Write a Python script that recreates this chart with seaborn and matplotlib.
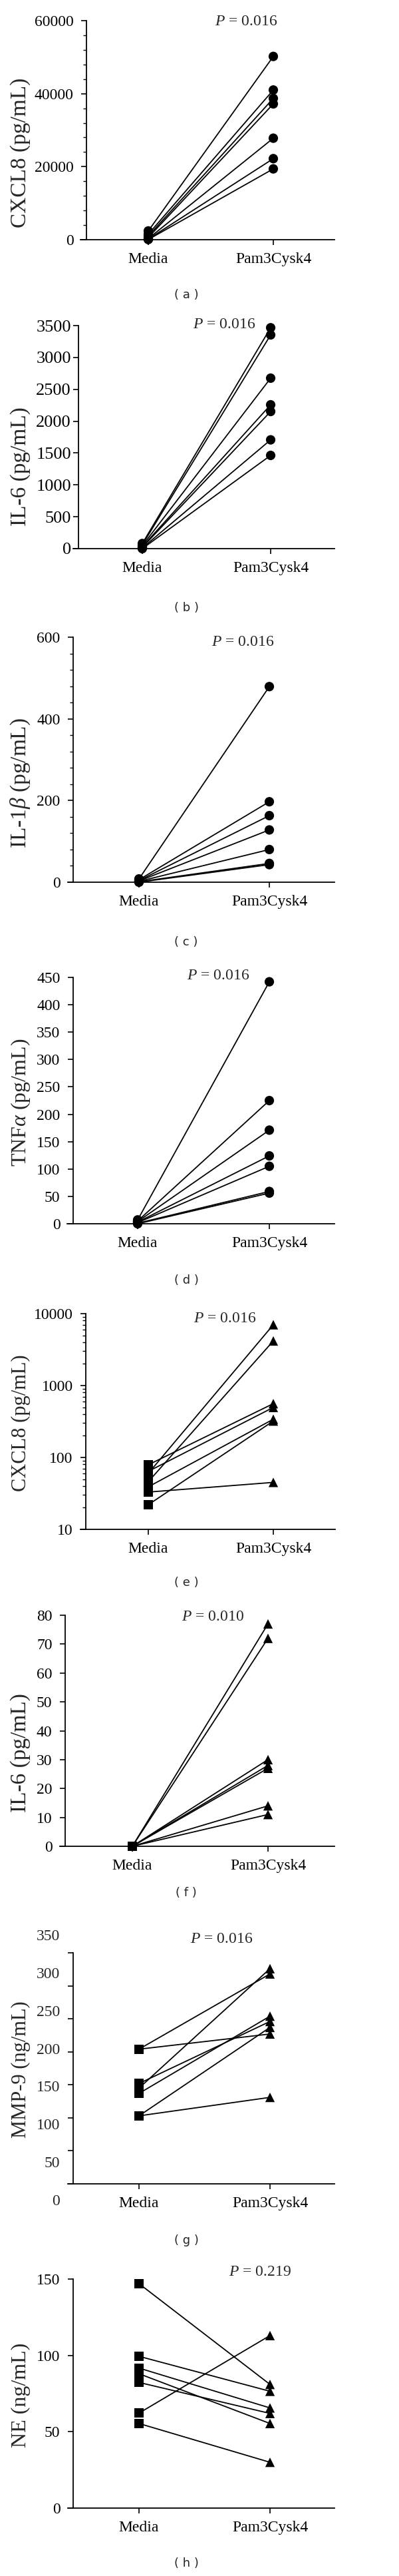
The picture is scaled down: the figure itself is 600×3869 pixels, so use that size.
import matplotlib
matplotlib.use('Agg')
import matplotlib.pyplot as plt
from matplotlib.ticker import MultipleLocator, NullFormatter
import pandas as pd
import seaborn as sns

groups = ['Media', 'Pam3Cysk4']

# (a) CXCL8
cxcl8_media = [2400, 1500, 1000, 600, 300, 150, 50]
cxcl8_pam = [50200, 41000, 38700, 37200, 27800, 22200, 19400]
# (b) IL-6
il6_media = [80, 60, 45, 30, 20, 10, 0]
il6_pam = [3466, 3354, 2675, 2257, 2152, 1707, 1463]
# (c) IL-1beta
il1b_media = [8, 6, 4, 3, 2, 1, 0]
il1b_pam = [479, 197, 163, 128, 80, 46, 43]
# (d) TNFalpha
tnfa_media = [7, 5, 4, 3, 2, 1, 0]
tnfa_pam = [442, 225, 171, 124, 105, 59, 56]
# (e) CXCL8 (log)
cxcl8b_media = [79, 64, 60, 46, 39, 33, 22]
cxcl8b_pam = [560, 496, 7010, 4170, 340, 45, 321]
# (f) IL-6
il6b_media = [0, 0, 0, 0, 0, 0, 0]
il6b_pam = [77, 72, 30, 28, 27, 14, 11]
# (g) MMP-9
mmp9_media = [204, 204, 152, 145, 137, 103, 103]
mmp9_pam = [318, 227, 246, 326, 254, 237, 131]
# (h) NE
ne_media = [147, 99.4, 91.7, 88, 82.3, 62.2, 55.4]
ne_pam = [81, 76.5, 65.6, 55.4, 62, 113, 30]

ylabels = ['CXCL8 (pg/mL)', 'IL-6 (pg/mL)', r'IL-1$\beta$ (pg/mL)', r'TNF$\alpha$ (pg/mL)',
           'CXCL8 (pg/mL)', 'IL-6 (pg/mL)', 'MMP-9 (ng/mL)', 'NE (ng/mL)']
p_values = ['0.016', '0.016', '0.016', '0.016', '0.016', '0.010', '0.016', '0.219']
tags = ['a', 'b', 'c', 'd', 'e', 'f', 'g', 'h']
y_max = [60000, 3500, 600, 450, 10000, 80, 350, 150]
y_min = [0, 0, 0, 0, 10, 0, 0, 0]
media_sets = [cxcl8_media, il6_media, il1b_media, tnfa_media, cxcl8b_media, il6b_media, mmp9_media, ne_media]
pam_sets = [cxcl8_pam, il6_pam, il1b_pam, tnfa_pam, cxcl8b_pam, il6b_pam, mmp9_pam, ne_pam]

W, H = 600, 3869
# layout in pixels: x-axis left, spine x, right, top, bottom, media x, pam x,
# P text x/y, ylabel y, tag y, ylabel size
layout = [
    (121, 130, 503, 31, 360, 223, 411, 323, 33, 229, 443, 24),
    (110, 118, 503, 489, 824, 214, 407, 290, 488, 701, 913, 24),
    (102, 110, 503, 957, 1325, 209, 405, 318, 965, 1176, 1415, 24),
    (101, 110, 503, 1468, 1838, 207, 405, 281, 1465, 1656, 1923, 23),
    (121, 129, 504, 1973, 2297, 223, 411, 291, 1980, 2137, 2377, 22),
    (90, 98, 503, 2426, 2773, 199, 403, 273, 2428, 2633, 2843, 24),
    (102, 110, 503, 2933, 3280, 209, 406, 286, 2912, 3108, 3365, 22),
    (102, 110, 503, 3423, 3767, 209, 406, 344, 3413, 3597, 3850, 23),
]

sns.set_style('ticks')
plt.rcParams['font.family'] = ['Liberation Serif', 'DejaVu Serif']
plt.rcParams['mathtext.fontset'] = 'custom'
plt.rcParams['mathtext.rm'] = 'Liberation Serif'
plt.rcParams['mathtext.it'] = 'Liberation Serif:italic'

fig = plt.figure(figsize=(W / 100, H / 100), dpi=100)

for i in range(8):
    L, S, R, top, bot, mx, px, ptx, pty, yly, tgy, ylsize = layout[i]
    ax = fig.add_axes([L / W, 1 - bot / H, (R - L) / W, (bot - top) / H])
    media, pam = media_sets[i], pam_sets[i]
    n = len(media)
    df = pd.DataFrame({
        'subject': list(range(n)) * 2,
        'group': [groups[0]] * n + [groups[1]] * n,
        'value': media + pam,
    })
    df['pos'] = df['group'].map({g: k for k, g in enumerate(groups)})

    if i == 4:
        ax.set_yscale('log')
    if i < 4:
        mk = {groups[0]: 'o', groups[1]: 'o'}
    else:
        mk = {groups[0]: 's', groups[1]: '^'}

    sns.lineplot(data=df, x='pos', y='value', units='subject', estimator=None,
                 color='black', lw=1.3, ax=ax, legend=False, zorder=2)
    sns.scatterplot(data=df, x='pos', y='value', style='group', markers=mk,
                    color='black', s=105, edgecolor='none', ax=ax, legend=False,
                    zorder=3, clip_on=False)

    unit = px - mx
    ax.set_xlim(-(mx - L) / unit, 1 + (R - px) / unit)
    ax.set_ylim(y_min[i], y_max[i])
    ax.set_xticks([0, 1])
    ax.set_xticklabels(groups)
    ax.set_xlabel('')

    for s in ['top', 'right']:
        ax.spines[s].set_visible(False)
    for s in ['left', 'bottom']:
        ax.spines[s].set_linewidth(1.3)
        ax.spines[s].set_color('black')
    ax.spines['left'].set_position(('axes', (S - L) / (R - L)))

    ax.tick_params(axis='both', which='major', direction='out', length=6, width=1.2,
                   labelsize=17, color='black', labelcolor='black', pad=8)
    ax.tick_params(axis='y', which='minor', direction='out', length=3.6, width=1.0, color='black')
    if i == 1:
        ax.tick_params(axis='y', labelsize=19, pad=2)

    if i == 0:
        ax.yaxis.set_major_locator(MultipleLocator(20000))
        ax.yaxis.set_minor_locator(MultipleLocator(4000))
    elif i == 1:
        ax.yaxis.set_major_locator(MultipleLocator(500))
    elif i == 2:
        ax.yaxis.set_major_locator(MultipleLocator(200))
        ax.yaxis.set_minor_locator(MultipleLocator(40))
    elif i == 3:
        ax.yaxis.set_major_locator(MultipleLocator(50))
    elif i == 4:
        ax.set_yticks([10, 100, 1000, 10000], ['10', '100', '1000', '10000'])
        ax.yaxis.set_minor_formatter(NullFormatter())
    elif i == 5:
        ax.yaxis.set_major_locator(MultipleLocator(10))
    elif i == 6:
        ticks = list(range(0, 351, 50))
        ax.set_yticks(ticks, [''] * len(ticks))
        # tick labels in the source figure are spread wider than the ticks
        for v in ticks:
            ax.text((90 - L) / (R - L), 174 + (v - 175) * 1.149, str(v),
                    transform=ax.get_yaxis_transform(), ha='right', va='center',
                    fontsize=17, clip_on=False)
    else:
        ax.yaxis.set_major_locator(MultipleLocator(50))

    ax.set_ylabel(ylabels[i], fontsize=ylsize)
    ax.yaxis.set_label_coords(31 / W, 1 - yly / H, transform=fig.transFigure)
    ax.yaxis.label.set_verticalalignment('center')

    fig.text(ptx / W, 1 - pty / H, '$P$ = ' + p_values[i], fontsize=17,
             ha='left', va='center')
    fig.text(280 / W, 1 - tgy / H, '( ' + tags[i] + ' )', fontsize=13,
             family='DejaVu Sans', ha='center', va='center')

fig.savefig('out.png', dpi=100, facecolor='white')
